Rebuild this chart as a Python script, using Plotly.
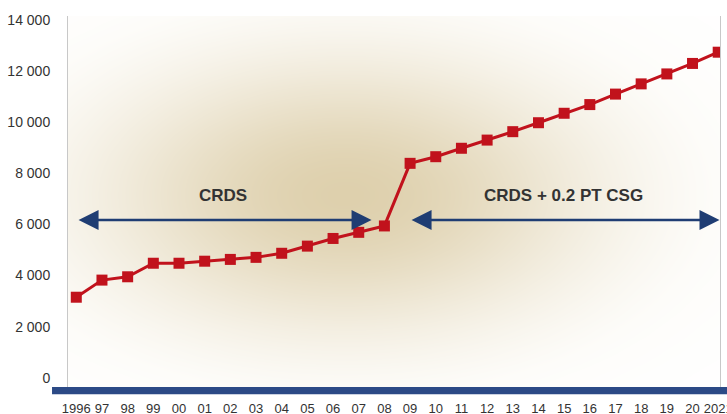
import numpy as np
import plotly.graph_objects as go

years = list(range(1996, 2022))
values = [3150, 3820, 3950, 4480, 4480, 4560, 4630, 4710, 4870, 5150, 5450, 5690, 5940,
          8390, 8650, 8980, 9300, 9630, 9980, 10350, 10690, 11100, 11500, 11890, 12300, 12740]
x_tick_labels = ["1996", "97", "98", "99", "00", "01", "02", "03", "04", "05", "06", "07", "08",
                 "09", "10", "11", "12", "13", "14", "15", "16", "17", "18", "19", "20", "2021"]
y_tick_vals = [0, 2000, 4000, 6000, 8000, 10000, 12000, 14000]
y_tick_labels = ["0", "2 000", "4 000", "6 000", "8 000", "10 000", "12 000", "14 000"]

period_labels = ["CRDS", "CRDS + 0.2 PT CSG"]
period_label_x = [2001.72, 2014.96]
period_label_y = 7150
arrow_starts = [1996.03, 2009.0]
arrow_ends = [2007.5, 2021.05]
arrow_y = 6170

XR = [1995.677, 2021.07]
YR = [-364, 14157]

# background glow (decoration)
gx = np.linspace(XR[0], XR[1], 80)
gy = np.linspace(YR[0], YR[1], 60)
GX, GY = np.meshgrid(gx, gy)
px_x = (GX - 1996) * 25.69 + 76
px_y = 377.7 - GY * 0.02555
Z = np.exp(-(((px_x - 345) / 255) ** 2 + ((px_y - 195) / 140) ** 2))

fig = go.Figure()
fig.add_trace(go.Heatmap(x=gx, y=gy, z=Z, zsmooth="best", showscale=False,
                         hoverinfo="skip", zmin=0, zmax=1,
                         colorscale=[[0, "rgb(255,255,255)"], [0.12, "rgb(253,252,249)"],
                                     [1, "rgb(222,208,173)"]]))
fig.add_trace(go.Scatter(x=years, y=values, mode="lines+markers",
                         line=dict(color="#c1121c", width=3),
                         marker=dict(symbol="square", size=11, color="#c1121c"),
                         showlegend=False))

annotations = []
for s, e in zip(arrow_starts, arrow_ends):
    annotations.append(dict(x=e, y=arrow_y, ax=s, ay=arrow_y, xref="x", yref="y",
                            axref="x", ayref="y", text="", showarrow=True,
                            arrowhead=2, arrowside="end+start", arrowsize=1.6,
                            arrowwidth=2.5, arrowcolor="#1f3d73"))
for t, xx in zip(period_labels, period_label_x):
    annotations.append(dict(x=xx, y=period_label_y, xref="x", yref="y", text="<b>%s</b>" % t,
                            showarrow=False,
                            font=dict(family="Liberation Sans, Arial", size=17, color="#333333")))

fig.update_layout(
    width=727, height=414,
    margin=dict(l=68, r=7, t=16, b=27),
    paper_bgcolor="white", plot_bgcolor="white",
    showlegend=False,
    annotations=annotations,
    shapes=[dict(type="rect", xref="paper", yref="paper", x0=-0.0245, x1=1.011,
                 y0=-0.0197, y1=0, fillcolor="#2c4a86", line=dict(width=0), layer="above")],
    xaxis=dict(range=XR, tickvals=years, ticktext=x_tick_labels, showgrid=False,
               zeroline=False, showline=False, ticks="", ticklabelstandoff=12,
               tickangle=0, automargin=False, ticklabeloverflow="allow",
               tickfont=dict(family="Liberation Sans, Arial", size=13, color="#333333")),
    yaxis=dict(range=YR, tickvals=y_tick_vals, ticktext=y_tick_labels, showgrid=False,
               zeroline=False, showline=True, linecolor="#c8c8c8", linewidth=1, mirror=True,
               ticks="", ticklabelstandoff=14, automargin=False,
               tickfont=dict(family="Liberation Sans, Arial", size=14, color="#333333")),
)

fig.write_html("out.html", config={"displayModeBar": False},
               post_script="document.body.style.margin='0';document.body.style.overflow='hidden';")
